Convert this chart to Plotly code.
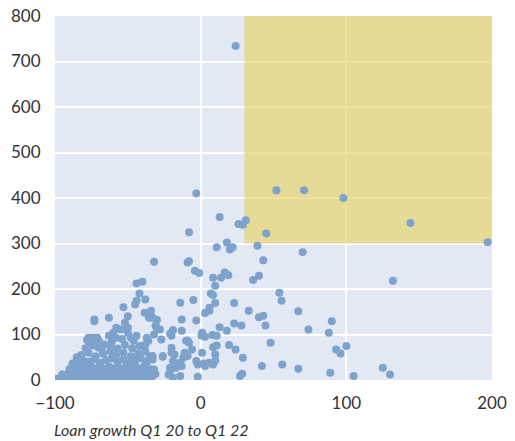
import plotly.graph_objects as go

# Scattered points (loan growth %, y value)
upper_pts = [(24,734),(-3,410),(52,417),(71,417),(98,400),(144,345),(197,303),(31,351),(26,343),(29,341),
             (45,322),(13,358),(-8,325),(11,292),(18,302),(20,287),(22,292),(39,295),(43,263),(70,281),
             (-32,260),(-9,258),(-8,261),(-4,240),(-1,235),(8.5,225),(14,225),(16.5,236),(19,230),(10,207),
             (36,220),(40,229),(132,218),(-44,212),(-40,216),(-42,190),(-38,177),(-14,170),(-5,176),(7,190),
             (8.5,187),(10,169),(6,159),(23,169),(54,192),(55.5,174),(33,152),(67,151),(40,138),(43,141),
             (44.5,120),(74,111),(90,129),(88,104),(48,82),(93,67),(96,58),(100,75),(42,31),(56,34),
             (67,25),(89,16),(105,9),(125,27),(130,12)]

mid_pts = [(-44,174),(-45,166),(-53,160),(-38.5,148),(-34,152),(-33,137),(-30,132),(-35.5,137),(-50,140),
           (-52,126),(-63,137),(-73,133),(-73,129),(-13,133),(-3,131),(3,147),(6,152),(13,116),(23,124),
           (28,120),(18,108),(-19,110),(-21,102),(-13,108),(-20,97),(-31,119),(-30,115),(-28,111),(-32,100),
           (-27,89),(-37,93),(-36,86),(-38,78),(-44,97),(-48,93),(-50,104),(-58,115),(-60,104),(-63,97),
           (-58,93),(-55,111),(-50,115),(-77,93),(-74,93),(-71,93),(-76,82),(-73,78),(-66,78),(-70,71),
           (-85,50),(-88,36)]

near_zero_pts = [(1,104),(0.5,98),(3,95),(8,99),(11,97),(1,60),(8.5,72),(11,76),(10,56),(-2,7),(-3,42),
                 (2,36),(6,38),(8.5,34),(10,43),(-2,34),(3,31),(19.5,77),(24,67),(29,49),(27,9),(28.5,14),
                 (-10,86),(-8,82),(-6,67),(-11,60),(-9,53),(-12,49),(-14,38),(-20,71),(-18,56),(-19,42),
                 (-21,27),(-22,12),(-17,27),(-13,31),(-18,38),(-26,51),(-33,9),(-32,23),(-26,53),(-33,53),
                 (-20,60),(-15.6,34),(-21,20),(-19,5),(-14,9),(-9,87)]

cluster_pts = [
    (-100,0),(-99,2),(-97,4),(-96,1),(-94,3),(-92,5),(-91,1),(-89,6),(-88,2),(-86,4),(-84,7),(-83,1),
    (-81,3),(-79,5),(-77,2),(-75,6),(-74,1),(-72,4),(-70,7),(-68,2),(-66,5),(-64,3),(-62,8),(-60,2),
    (-58,5),(-56,3),(-54,7),(-52,2),(-50,4),(-48,8),(-46,3),(-44,6),(-41,2),(-39,7),(-36,4),
    (-95,12),(-93,9),(-91,14),(-89,11),(-87,16),(-85,12),(-83,18),(-81,13),(-79,15),(-77,11),(-75,17),
    (-73,13),(-71,19),(-69,12),(-67,15),(-65,18),(-63,11),(-61,16),(-59,13),(-57,19),(-55,12),(-53,15),
    (-51,18),(-49,11),(-47,16),(-45,13),(-43,19),(-40,12),(-38,15),(-35,18),(-31,13),
    (-90,24),(-87,30),(-84,25),(-81,32),(-78,24),(-75,30),(-72,25),(-69,32),(-66,24),(-63,30),(-60,25),
    (-57,33),(-54,24),(-51,30),(-48,26),(-45,33),(-42,24),(-39,30),(-36,26),(-32,22),
    (-86,38),(-81,44),(-77,40),(-73,46),(-69,38),(-65,44),(-61,48),(-57,39),(-53,45),(-49,37),(-45,43),
    (-41,48),(-37,40),(-33,45),
    (-82,55),(-77,60),(-72,52),(-67,58),(-62,63),(-58,54),(-53,60),(-48,52),(-43,58),(-38,63),(-35,52),
    (-79,70),(-74,76),(-68,68),(-62,74),(-57,69),(-52,77),(-47,70),(-42,75),
    (-78,88),(-70,86),(-61,84),(-54,90),(-46,86)]

x_ticks = [-100, 0, 100, 200]
y_ticks = [0, 100, 200, 300, 400, 500, 600, 700, 800]
x_title = "Loan growth Q1 20 to Q1 22"
highlight = dict(x0=30, x1=200, y0=300, y1=800)

all_pts = upper_pts + mid_pts + near_zero_pts + cluster_pts
xs = [p[0] for p in all_pts]
ys = [p[1] for p in all_pts]

fig = go.Figure()
fig.add_trace(go.Scatter(x=xs, y=ys, mode="markers",
                         marker=dict(color="#7da2cb", size=8, line=dict(width=0)),
                         hoverinfo="x+y"))

fig.add_shape(type="rect", xref="x", yref="y", layer="between",
              fillcolor="rgb(231,212,109)", opacity=0.7, line=dict(width=0), **highlight)

tickfont = dict(family="Lato", size=17, color="#333333")
fig.update_layout(
    width=515, height=441,
    margin=dict(l=55, r=23, t=16, b=61, autoexpand=False),
    plot_bgcolor="#e3e9f4", paper_bgcolor="white",
    showlegend=False,
    xaxis=dict(range=[-100, 200], tickvals=x_ticks, showgrid=True, gridcolor="white", gridwidth=1.5,
               zeroline=False, showline=False, ticks="outside", ticklen=8, automargin=False,
               tickcolor="rgba(0,0,0,0)", tickfont=tickfont),
    yaxis=dict(range=[0, 800], tickvals=y_ticks, showgrid=True, gridcolor="white", gridwidth=1.5,
               zeroline=False, showline=False, ticks="outside", ticklen=10, automargin=False,
               tickcolor="rgba(0,0,0,0)", tickfont=tickfont),
)
fig.add_annotation(text=x_title, xref="paper", yref="paper", x=0, y=-0.137, xshift=-3,
                   xanchor="left", yanchor="middle", showarrow=False,
                   font=dict(family="Lato", size=16, color="#333333", style="italic"))

fig.write_html("out.html")
